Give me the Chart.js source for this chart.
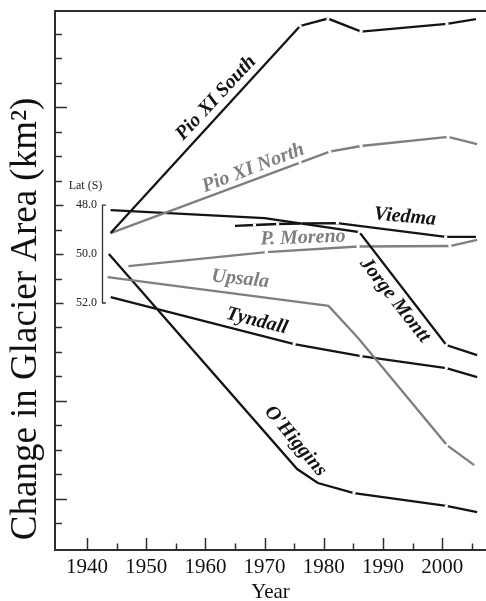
<!DOCTYPE html>
<html><head><meta charset="utf-8">
<script src="https://cdn.jsdelivr.net/npm/chart.js@4.4.1/dist/chart.umd.min.js"></script>
<style>html,body{margin:0;padding:0;background:#fff;}#wrap{width:486px;height:601px;}</style>
</head><body><div id="wrap"><canvas id="c" width="486" height="601"></canvas></div>
<script>
// ---- data (x = year, y = relative change in glacier area, axis units) ----
const yearTicks = [1940, 1950, 1960, 1970, 1980, 1990, 2000];
const yearMinorTicks = [1945, 1955, 1965, 1975, 1985, 1995, 2005];
const areaTicks = [0,1,2,3,4,5,6,7,8,9,10,11,12,13,14,15,16,17,18,19,20];
const areaLongTicks = [1, 5, 17];
const latTicks = [13, 11, 9];
const latLabels = ['48.0', '50.0', '52.0'];
const yTitle = 'Change in Glacier Area (km²)';
const xTitle = 'Year';

const glacierNames = ['Pio XI South', 'Pio XI North', 'Jorge Montt', 'Viedma', 'P. Moreno', 'Upsala', 'Tyndall', "O'Higgins"];

const pioSouthYears = [1944, 1976, 1980.7, 1986.3, 2000.8, 2005.7];
const pioSouthArea  = [11.86, 20.33, 20.63, 20.10, 20.41, 20.61];
const pioNorthYears = [1944, 1976, 1981, 1986.3, 2001, 2005.9];
const pioNorthArea  = [11.86, 14.74, 15.19, 15.42, 15.79, 15.50];
const jorgeMonttYears = [1944, 1970, 1986, 2000.7, 2005.9];
const jorgeMonttArea  = [12.80, 12.47, 11.90, 7.28, 6.87];
const viedmaYears = [1965, 1968.3, 1972.2, 1976.2, 1982.3, 2000.6, 2005.7];
const viedmaArea  = [12.15, 12.19, 12.23, 12.25, 12.27, 11.70, 11.70];
const morenoYears = [1947, 1970.3, 1985.8, 2001.3, 2005.9];
const morenoArea  = [10.51, 11.08, 11.31, 11.33, 11.58];
const upsalaYears = [1943.5, 1980.8, 1985.8, 2000.8, 2005.4];
const upsalaArea  = [10.06, 8.88, 7.57, 3.19, 2.37];
const tyndallYears = [1944, 1975, 1986.3, 2000.7, 2005.9];
const tyndallArea  = [9.24, 7.32, 6.83, 6.34, 5.97];
const ohigginsYears = [1943.7, 1975.5, 1979, 1985.1, 2000.7, 2005.9];
const ohigginsArea  = [11.0, 2.21, 1.64, 1.23, 0.70, 0.45];

// ---- styling ----
const BLACK = '#141414', GRAY = '#7f7f7f', AXIS = '#2e2e2e';
const seriesYears = [pioSouthYears, pioNorthYears, jorgeMonttYears, viedmaYears, morenoYears, upsalaYears, tyndallYears, ohigginsYears];
const seriesArea  = [pioSouthArea, pioNorthArea, jorgeMonttArea, viedmaArea, morenoArea, upsalaArea, tyndallArea, ohigginsArea];
const seriesColor = [BLACK, GRAY, BLACK, BLACK, GRAY, GRAY, BLACK, BLACK];
const noGap = {'Jorge Montt': [1], 'Upsala': [1, 2], "O'Higgins": [1, 2]};

const nameLabels = [
  {i: 0, x: 1961.8, y: 17.38, a: -47},
  {i: 1, x: 1968.1, y: 14.52, a: -21},
  {i: 2, x: 1992.0, y: 9.12,  a: 52},
  {i: 3, x: 1993.7, y: 12.52, a: 5},
  {i: 4, x: 1976.5, y: 11.66, a: -2},
  {i: 5, x: 1965.9, y: 9.98,  a: 6},
  {i: 6, x: 1968.7, y: 8.26,  a: 14},
  {i: 7, x: 1975.2, y: 3.35,  a: 50}
];

const datasets = glacierNames.map((name, k) => ({
  label: name,
  data: seriesYears[k].map((yr, j) => ({x: yr, y: seriesArea[k][j]})),
  borderColor: seriesColor[k],
  borderWidth: 2.3,
  borderCapStyle: 'butt',
  borderJoinStyle: 'miter',
  tension: 0,
  fill: false,
  pointBackgroundColor: '#ffffff',
  pointBorderWidth: 0,
  pointHoverRadius: 0,
  pointRadius: (c) => {
    const n = seriesYears[k].length, j = c.dataIndex;
    if (j === 0 || j === n - 1) return 0;
    if ((noGap[name] || []).includes(j)) return 0;
    return 1.7;
  }
}));

const decor = {
  id: 'decor',
  afterDatasetsDraw(chart) {
    const {ctx, chartArea: ca} = chart;
    const xs = chart.scales.x, ys = chart.scales.y;
    ctx.save();
    // top frame line
    ctx.strokeStyle = AXIS; ctx.lineWidth = 2;
    ctx.beginPath(); ctx.moveTo(ca.left, ca.top); ctx.lineTo(ca.right, ca.top); ctx.stroke();
    // x ticks (inward)
    ctx.lineWidth = 1.5;
    yearTicks.forEach(v => { const p = Math.round(xs.getPixelForValue(v)) + 0.5;
      ctx.beginPath(); ctx.moveTo(p, ca.bottom); ctx.lineTo(p, ca.bottom - 12); ctx.stroke(); });
    yearMinorTicks.forEach(v => { const p = Math.round(xs.getPixelForValue(v)) + 0.5;
      ctx.beginPath(); ctx.moveTo(p, ca.bottom); ctx.lineTo(p, ca.bottom - 6.5); ctx.stroke(); });
    // y ticks (inward)
    areaTicks.forEach(v => { const p = Math.round(ys.getPixelForValue(v)) + 0.5;
      let len = 7; if (areaLongTicks.includes(v)) len = 12; else if (latTicks.includes(v)) len = 8.5;
      ctx.beginPath(); ctx.moveTo(ca.left, p); ctx.lineTo(ca.left + len, p); ctx.stroke(); });
    // y axis title
    ctx.save();
    ctx.fillStyle = '#111';
    ctx.font = '37px "Liberation Serif"';
    ctx.textAlign = 'left'; ctx.textBaseline = 'alphabetic';
    ctx.translate(36, ys.getPixelForValue(-0.7));
    ctx.rotate(-Math.PI / 2);
    ctx.fillText(yTitle, 0, 0);
    ctx.restore();
    // latitude labels
    ctx.fillStyle = '#222';
    ctx.font = '12px "Liberation Serif"';
    ctx.textAlign = 'center'; ctx.textBaseline = 'middle';
    ctx.fillText('Lat (S)', xs.getPixelForValue(1939.75), ys.getPixelForValue(13.78));
    ctx.textAlign = 'right';
    latTicks.forEach((v, i) => ctx.fillText(latLabels[i], xs.getPixelForValue(1941.7), ys.getPixelForValue(v)));
    // bracket
    const bx = Math.round(xs.getPixelForValue(1942.55)) + 0.5, bx2 = xs.getPixelForValue(1943.2);
    const bt = ys.getPixelForValue(latTicks[0]), bb = ys.getPixelForValue(latTicks[2]);
    ctx.strokeStyle = '#333'; ctx.lineWidth = 1.3;
    ctx.beginPath(); ctx.moveTo(bx2, bt); ctx.lineTo(bx, bt); ctx.lineTo(bx, bb); ctx.lineTo(bx2, bb); ctx.stroke();
    // glacier names
    ctx.font = 'italic bold 20px "Liberation Serif"';
    ctx.textAlign = 'center'; ctx.textBaseline = 'middle';
    nameLabels.forEach(l => {
      ctx.save();
      ctx.translate(xs.getPixelForValue(l.x), ys.getPixelForValue(l.y));
      ctx.rotate(l.a * Math.PI / 180);
      ctx.fillStyle = seriesColor[l.i];
      ctx.fillText(glacierNames[l.i], 0, 0);
      ctx.restore();
    });
    ctx.restore();
  }
};

new Chart(document.getElementById('c'), {
  type: 'line',
  data: {datasets},
  plugins: [decor],
  options: {
    responsive: false,
    animation: false,
    events: [],
    devicePixelRatio: 1,
    layout: {padding: {top: 11, right: 0, bottom: 0, left: 0}},
    plugins: {legend: {display: false}, tooltip: {enabled: false}},
    scales: {
      x: {
        type: 'linear', min: 1934.6, max: 2007.4,
        afterBuildTicks: s => { s.ticks = yearTicks.map(v => ({value: v})); },
        afterFit: s => { s.height = 51; },
        grid: {display: false, drawTicks: false, tickLength: 0},
        border: {display: true, color: AXIS, width: 2},
        ticks: {padding: 5, color: '#111', font: {family: 'Liberation Serif', size: 21}, callback: v => String(v), maxRotation: 0, autoSkip: false},
        title: {display: true, text: xTitle, color: '#111', font: {family: 'Liberation Serif', size: 21, lineHeight: 1}, padding: {top: 0, bottom: -2}}
      },
      y: {
        type: 'linear', min: -1.1, max: 20.94,
        afterBuildTicks: s => { s.ticks = areaTicks.map(v => ({value: v})); },
        afterFit: s => { s.width = 55; },
        grid: {display: false, drawTicks: false, tickLength: 0},
        border: {display: true, color: AXIS, width: 2},
        ticks: {display: false},
        title: {display: false}
      }
    }
  }
});
</script></body></html>
